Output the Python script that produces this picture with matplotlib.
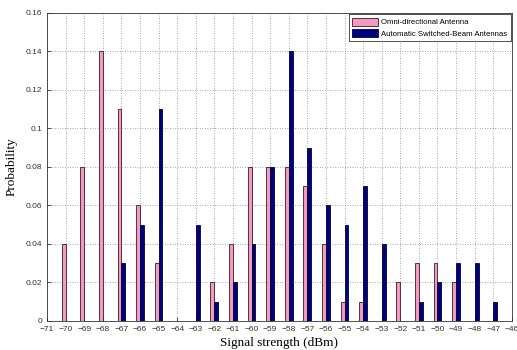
import matplotlib
matplotlib.use("Agg")
import matplotlib.pyplot as plt
import numpy as np

signal = [-70, -69, -68, -67, -66, -65, -64, -63, -62, -61, -60, -59,
          -58, -57, -56, -55, -54, -53, -52, -51, -50, -49, -48, -47]
omni = [0.04, 0.08, 0.14, 0.11, 0.06, 0.03, 0, 0, 0.02, 0.04, 0.08, 0.08,
        0.08, 0.07, 0.04, 0.01, 0.01, 0, 0.02, 0.03, 0.03, 0.02, 0, 0]
switched = [0, 0, 0, 0.03, 0.05, 0.11, 0, 0.05, 0.01, 0.02, 0.04, 0.08,
            0.14, 0.09, 0.06, 0.05, 0.07, 0.04, 0, 0.01, 0.02, 0.03, 0.03, 0.01]
labels = ["Omni-directional Antenna", "Automatic Switched-Beam Antennas"]

fig = plt.figure(figsize=(5.17, 3.5), dpi=100)
ax = fig.add_axes([0.091, 0.083, 0.899, 0.880])

x = np.array(signal, dtype=float)
w = 0.21
ax.bar(x - w / 2, omni, width=w, color="#F49AC1", edgecolor="#3a1a2a",
       linewidth=0.6, label=labels[0], zorder=3)
ax.bar(x + w / 2, switched, width=w, color="#000080", edgecolor="#000030",
       linewidth=0.6, label=labels[1], zorder=3)

ax.set_xlim(-71, -46)
ax.set_ylim(0, 0.16)
ax.set_xticks(np.arange(-71, -45, 1))
ax.set_yticks(np.arange(0, 0.161, 0.02))
ax.set_yticklabels(["0", "0.02", "0.04", "0.06", "0.08", "0.1", "0.12", "0.14", "0.16"])
ax.tick_params(direction="in", labelsize=6, length=3, width=0.6, colors="#333333")
for lbl in ax.get_xticklabels() + ax.get_yticklabels():
    lbl.set_family("Liberation Sans")
ax.grid(True, linestyle=(0, (1, 2)), color="#8c8c8c", linewidth=0.6, zorder=0)
for s in ax.spines.values():
    s.set_linewidth(0.6)
    s.set_color("#333333")

ax.set_xlabel("Signal strength (dBm)", family="Liberation Serif", fontsize=9.5, labelpad=3)
ax.set_ylabel("Probability", family="Liberation Serif", fontsize=9.5, labelpad=6)

leg = ax.legend(loc="upper right", prop={"family": "Liberation Sans", "size": 5.6},
                fancybox=False, edgecolor="#333333", framealpha=1,
                handlelength=3.3, handleheight=1.3, borderpad=0.45,
                labelspacing=0.3, handletextpad=0.4, borderaxespad=0.15)
leg.get_frame().set_linewidth(0.6)

fig.savefig("out.png", dpi=100)
